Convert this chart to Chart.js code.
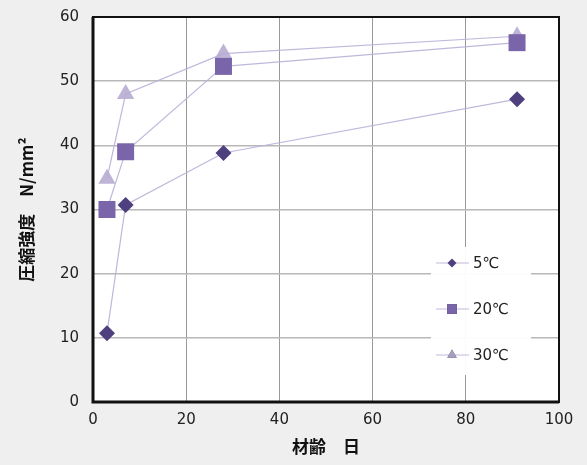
<!DOCTYPE html>
<html>
<head>
<meta charset="utf-8">
<script src="https://cdn.jsdelivr.net/npm/chart.js@4"></script>
<style>
  html, body { margin: 0; padding: 0; background: #efefef; }
  #wrap { width: 587px; height: 465px; }
</style>
</head>
<body>
<div id="wrap"><canvas id="chart"></canvas></div>
<script>
// 材齢 (日)
const ages = [3, 7, 28, 91];
const temp5 = [10.7, 30.7, 38.8, 47.2];
const temp20 = [30, 39, 52.3, 56];
const temp30 = [34.8, 48, 54.3, 57];
const seriesNames = ["5℃", "20℃", "30℃"];
const xTicks = [0, 20, 40, 60, 80, 100];
const yTicks = [0, 10, 20, 30, 40, 50, 60];

const lineColor = "rgba(185,175,215,0.9)";
const tickFont = "'DejaVu Sans', sans-serif";
const jpFont = "'Noto Sans CJK JP', 'DejaVu Sans', sans-serif";

function pts(vals) {
  return ages.map((a, i) => ({ x: a, y: vals[i] }));
}

// white plot area + black frame
const frame = {
  id: "frame",
  beforeDraw(chart) {
    const a = chart.chartArea, c = chart.ctx;
    c.save();
    c.fillStyle = "#ffffff";
    c.fillRect(a.left, a.top, a.right - a.left, a.bottom - a.top);
    c.restore();
  },
  afterDatasetsDraw(chart) {
    const a = chart.chartArea, c = chart.ctx;
    c.save();
    c.strokeStyle = "#111";
    c.lineWidth = 2;
    c.strokeRect(a.left, a.top, a.right - a.left, a.bottom - a.top);
    c.lineWidth = 3;
    c.beginPath();
    c.moveTo(a.left, a.top);
    c.lineTo(a.left, a.bottom);
    c.lineTo(a.right, a.bottom);
    c.stroke();
    c.restore();
  }
};

// legend inside the plot, lower right
const innerLegend = {
  id: "innerLegend",
  afterDraw(chart) {
    const c = chart.ctx, a = chart.chartArea;
    const x0 = a.right - 128, y0 = a.bottom - 155;
    c.save();
    c.fillStyle = "rgba(255,255,255,0.95)";
    c.fillRect(x0, y0, 100, 128);
    chart.data.datasets.forEach((ds, i) => {
      const y = y0 + 16 + i * 46;
      c.strokeStyle = ds.borderColor;
      c.lineWidth = 1.2;
      c.beginPath();
      c.moveTo(x0 + 5, y);
      c.lineTo(x0 + 38, y);
      c.stroke();
      const r = [4.5, 7, 5.5][i];
      Chart.helpers.drawPoint(c, { pointStyle: ds.pointStyle, radius: r, borderWidth: 0 }, x0 + 21, y);
      c.fillStyle = ds.pointBackgroundColor;
      c.fill();
      c.fillStyle = "#222";
      c.font = "15px " + tickFont;
      c.textBaseline = "middle";
      c.fillText(seriesNames[i], x0 + 42, y + 1);
    });
    c.restore();
  }
};

new Chart(document.getElementById("chart"), {
  type: "line",
  data: {
    datasets: [
      {
        label: seriesNames[0],
        data: pts(temp5),
        borderColor: lineColor,
        borderWidth: 1.2,
        pointStyle: "rectRot",
        pointRadius: 8,
        pointBackgroundColor: "#4e3f7e",
        pointBorderColor: "#4e3f7e",
        pointBorderWidth: 0
      },
      {
        label: seriesNames[1],
        data: pts(temp20),
        borderColor: lineColor,
        borderWidth: 1.2,
        pointStyle: "rect",
        pointRadius: 12,
        pointBackgroundColor: "#7b65aa",
        pointBorderColor: "#7b65aa",
        pointBorderWidth: 0
      },
      {
        label: seriesNames[2],
        data: pts(temp30),
        borderColor: lineColor,
        borderWidth: 1.2,
        pointStyle: "triangle",
        pointRadius: 10,
        pointBackgroundColor: "rgba(182,172,210,0.9)",
        pointBorderColor: "rgba(182,172,210,0.9)",
        pointBorderWidth: 0
      }
    ]
  },
  options: {
    responsive: true,
    maintainAspectRatio: false,
    animation: false,
    layout: { padding: { top: 17, right: 28, left: 0, bottom: 0 } },
    plugins: { legend: { display: false }, tooltip: { enabled: false } },
    scales: {
      x: {
        type: "linear",
        min: 0,
        max: 100,
        afterBuildTicks(s) { s.ticks = xTicks.map(v => ({ value: v })); },
        afterFit(s) { s.height = 63; s.paddingRight = 0; s.paddingLeft = 0; },
        grid: { color: "#999", lineWidth: 1, drawTicks: false },
        border: { display: false },
        ticks: { color: "#222", font: { size: 15, family: tickFont }, padding: 9 },
        title: {
          display: true,
          text: "材齢　日",
          color: "#111",
          font: { size: 17, weight: "bold", family: jpFont },
          padding: { top: 0, bottom: 8 }
        }
      },
      y: {
        min: 0,
        max: 60,
        afterBuildTicks(s) { s.ticks = yTicks.map(v => ({ value: v })); },
        afterFit(s) { s.width = 93; s.paddingTop = 0; s.paddingBottom = 0; },
        grid: { color: "#b8b8b8", lineWidth: 1.5, drawTicks: false },
        border: { display: false },
        ticks: { color: "#222", font: { size: 15, family: tickFont }, padding: 14 },
        title: {
          display: true,
          text: "圧縮強度　N/mm²",
          color: "#111",
          font: { size: 17, weight: "bold", family: jpFont },
          padding: { top: 16, bottom: 4 }
        }
      }
    }
  },
  plugins: [frame, innerLegend]
});
</script>
</body>
</html>
